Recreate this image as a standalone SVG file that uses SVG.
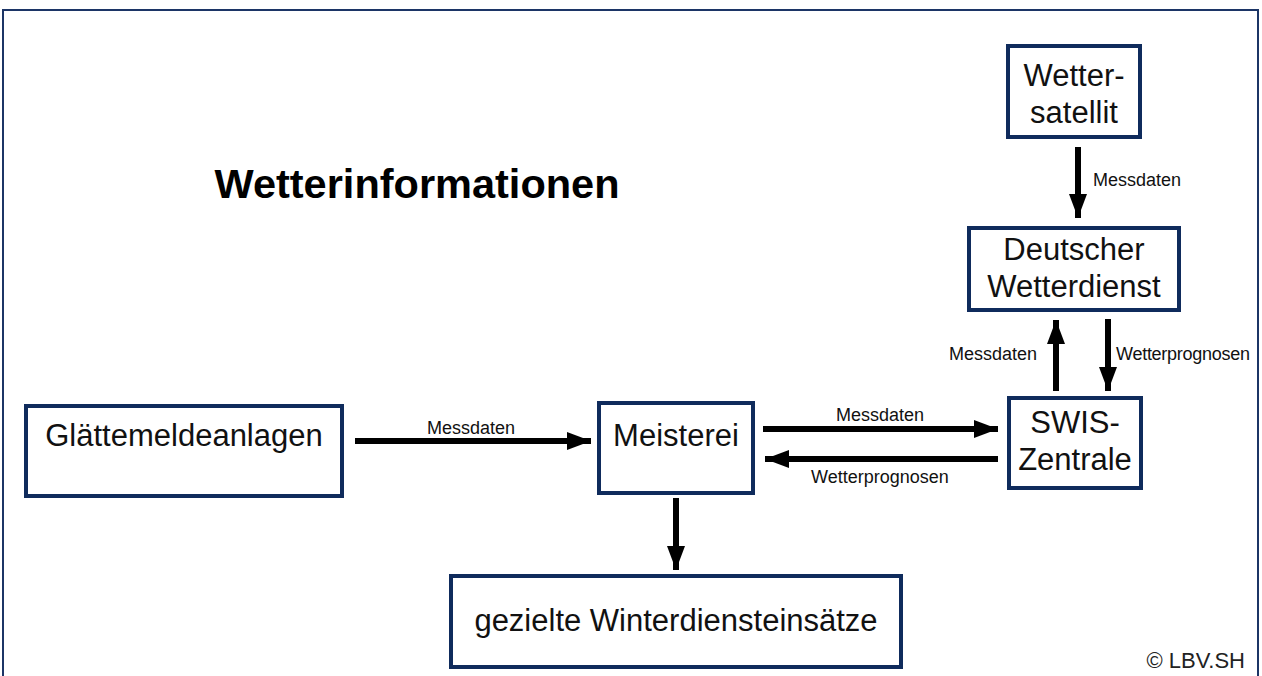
<svg xmlns="http://www.w3.org/2000/svg" width="1262" height="676" viewBox="0 0 1262 676">
<style>
.box{fill:#fff;stroke:#0f2b5c;stroke-width:4}
.nt{font-family:"Liberation Sans",Arial,sans-serif;font-size:31px;fill:#111;text-anchor:middle}
.lb{font-family:"Liberation Sans",Arial,sans-serif;font-size:18px;fill:#111}
.ar{stroke:#000;stroke-width:6;fill:none;marker-end:url(#ah)}
</style>
<defs>
<marker id="ah" markerUnits="userSpaceOnUse" markerWidth="26" markerHeight="20" refX="24" refY="10" orient="auto">
<path d="M0,1 L24,10 L0,19 Z" fill="#000"/>
</marker>
</defs>
<rect x="0" y="0" width="1262" height="676" fill="#fff"/>
<rect x="3" y="10" width="1255" height="690" fill="none" stroke="#1c3566" stroke-width="2"/>
<text x="417" y="198" font-family="Liberation Sans,Arial,sans-serif" font-size="41.5" font-weight="bold" text-anchor="middle" fill="#000">Wetterinformationen</text>

<g id="satellit"><rect class="box" x="1008" y="46" width="132" height="91"/><text class="nt" x="1074" y="86">Wetter-</text><text class="nt" x="1074" y="123">satellit</text></g>
<g id="dwd"><rect class="box" x="969" y="228" width="210" height="82"/><text class="nt" x="1074" y="260">Deutscher</text><text class="nt" x="1074" y="297">Wetterdienst</text></g>
<g id="swis"><rect class="box" x="1009" y="398" width="132" height="90"/><text class="nt" x="1075" y="433">SWIS-</text><text class="nt" x="1075" y="470">Zentrale</text></g>
<g id="meisterei"><rect class="box" x="599" y="403" width="154" height="90"/><text class="nt" x="676" y="446">Meisterei</text></g>
<g id="glaette"><rect class="box" x="26" y="406" width="316" height="90"/><text class="nt" x="184" y="446">Glättemeldeanlagen</text></g>
<g id="gezielte"><rect class="box" x="451" y="576" width="450" height="91"/><text class="nt" x="676" y="631">gezielte Winterdiensteinsätze</text></g>

<g id="connectors">
<line class="ar" x1="1078" y1="147" x2="1078" y2="218"/>
<line class="ar" x1="1056" y1="391" x2="1056" y2="320"/>
<line class="ar" x1="1108" y1="319" x2="1108" y2="391"/>
<line class="ar" x1="355" y1="441" x2="591" y2="441"/>
<line class="ar" x1="763" y1="429" x2="998" y2="429"/>
<line class="ar" x1="998" y1="459" x2="765" y2="459"/>
<line class="ar" x1="676" y1="498" x2="676" y2="570"/>
<text class="lb" x="1093" y="186">Messdaten</text>
<text class="lb" x="1037" y="360" text-anchor="end">Messdaten</text>
<text class="lb" x="1116" y="360" textLength="134">Wetterprognosen</text>
<text class="lb" x="471" y="434" text-anchor="middle">Messdaten</text>
<text class="lb" x="880" y="421" text-anchor="middle">Messdaten</text>
<text class="lb" x="880" y="483" text-anchor="middle">Wetterprognosen</text>
</g>
<text x="1245" y="668" font-family="Liberation Sans,Arial,sans-serif" font-size="22" text-anchor="end" fill="#222">© LBV.SH</text>
</svg>
